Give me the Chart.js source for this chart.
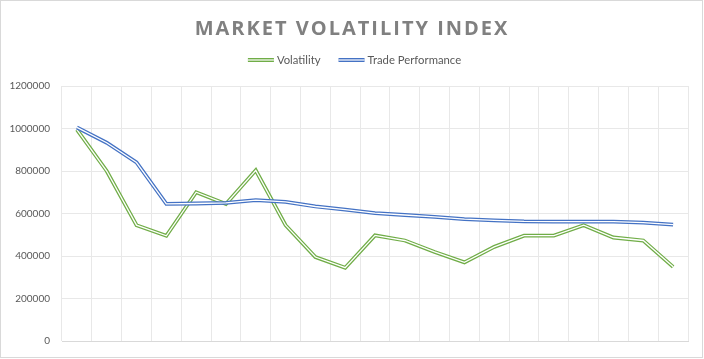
<!DOCTYPE html>
<html><head><meta charset="utf-8">
<script src="https://cdn.jsdelivr.net/npm/chart.js@4/dist/chart.umd.min.js"></script>
<style>html,body{margin:0;padding:0;background:#fff}#wrap{width:704px;height:359px;position:relative}</style>
</head><body><div id="wrap"><canvas id="c" width="704" height="359"></canvas></div>
<script>
const categories = ['1','2','3','4','5','6','7','8','9','10','11','12','13','14','15','16','17','18','19','20','21'];
const volatility = [995000, 800000, 545000, 495000, 700000, 645000, 803000, 545000, 395000, 345000, 497000, 473000, 419000, 370000, 443000, 496000, 496000, 545000, 487000, 473000, 349000];
const tradePerformance = [1005000, 933000, 840000, 645000, 647000, 650000, 663000, 655000, 633000, 618000, 602000, 593000, 584000, 574000, 568000, 563000, 562000, 562000, 562000, 557000, 548000];
const yTicks = [0, 200000, 400000, 600000, 800000, 1000000, 1200000];
const seriesNames = ['Volatility', 'Trade Performance'];
const GREEN = '#70AD47', BLUE = '#4472C4';

function drawDoubleIcon(ctx, x, y, w, color){
  ctx.fillStyle = color;
  ctx.fillRect(x, y - 2, w, 4);
  ctx.fillStyle = '#ffffff';
  ctx.fillRect(x, y - 0.6, w, 1.2);
}

const doubleLine = {
  id: 'doubleLine',
  afterDatasetDraw(chart, args){
    const pts = args.meta.data;
    const ctx = chart.ctx;
    ctx.save();
    ctx.beginPath();
    pts.forEach((p,i)=>{ if(i===0) ctx.moveTo(p.x,p.y); else ctx.lineTo(p.x,p.y); });
    ctx.strokeStyle = '#ffffff';
    ctx.lineWidth = 1.3;
    ctx.lineJoin = 'miter';
    ctx.stroke();
    ctx.restore();
  }
};
const frame = {
  id: 'frame',
  beforeDraw(chart){
    const tb = chart.titleBlock;
    if (tb && !tb._spaced){
      const d = tb.draw;
      tb.draw = function(){
        const ctx = chart.ctx;
        ctx.save();
        ctx.translate(8, 0);
        ctx.letterSpacing = '2px';
        d.apply(this, arguments);
        ctx.letterSpacing = '0px';
        ctx.restore();
      };
      tb._spaced = true;
    }
  },
  afterDraw(chart){
    const ctx = chart.ctx;
    ctx.save();
    // legend (custom double-line markers)
    ctx.font = '11.3px Lato';
    ctx.textBaseline = 'middle';
    ctx.textAlign = 'left';
    const iconW = 26, iconGap = 3, itemGap = 18;
    const widths = chart.data.datasets.map(ds => ctx.measureText(ds.label).width);
    const total = widths.reduce((a,w)=>a + iconW + iconGap + w, 0) + itemGap * (widths.length - 1);
    let x = 354.5 - total / 2;
    const y = 60;
    chart.data.datasets.forEach((ds, i) => {
      drawDoubleIcon(ctx, x, y, iconW, ds.borderColor);
      x += iconW + iconGap;
      ctx.fillStyle = '#595959';
      ctx.fillText(ds.label, x, y);
      x += widths[i] + itemGap;
    });
    ctx.strokeStyle = '#D9D9D9';
    ctx.lineWidth = 1;
    ctx.strokeRect(0.5, 0.5, 702, 357);
    ctx.restore();
  }
};

new Chart(document.getElementById('c'), {
  type: 'line',
  data: {
    labels: categories,
    datasets: [
      { label: seriesNames[0], data: volatility, borderColor: GREEN, backgroundColor: GREEN, borderWidth: 3.8, pointRadius: 0, tension: 0, borderJoinStyle: 'miter', fill: false, order: 1 },
      { label: seriesNames[1], data: tradePerformance, borderColor: BLUE, backgroundColor: BLUE, borderWidth: 3.8, pointRadius: 0, tension: 0, borderJoinStyle: 'miter', fill: false, order: 0 }
    ]
  },
  options: {
    responsive: false,
    devicePixelRatio: 1,
    animation: false,
    layout: { padding: { left: 0, right: 16, top: 0, bottom: 16 } },
    plugins: {
      title: {
        display: true, text: 'MARKET VOLATILITY INDEX', color: '#808080',
        font: { family: 'Open Sans', size: 20, weight: 'bold' },
        padding: { top: 17, bottom: 45 }
      },
      legend: { display: false },
      tooltip: { enabled: false }
    },
    scales: {
      x: {
        offset: true,
        grid: { offset: true, color: '#E8E8E8', drawTicks: false },
        border: { display: true, color: '#D9D9D9' },
        ticks: { display: false },
        afterFit(s){ s.height = 0; }
      },
      y: {
        min: 0, max: 1200000,
        afterBuildTicks(s){ s.ticks = yTicks.map(v=>({value:v})); },
        grid: { color: '#E8E8E8', drawTicks: false },
        border: { display: false },
        ticks: { color: '#595959', font: { family: 'Lato', size: 10 }, padding: 12, callback: v => String(v) },
        afterFit(s){ s.width = 62; }
      }
    }
  },
  plugins: [doubleLine, frame]
});
</script>
</body></html>
